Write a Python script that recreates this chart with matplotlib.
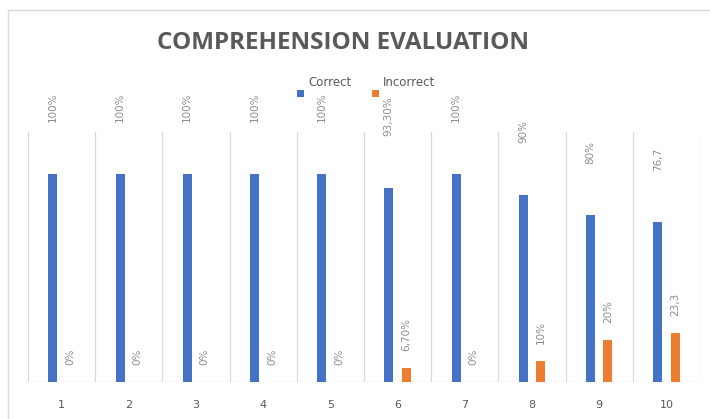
import matplotlib.pyplot as plt
from matplotlib.patches import Rectangle

# comprehension results per question
questions = ['1', '2', '3', '4', '5', '6', '7', '8', '9', '10']
correct = [100, 100, 100, 100, 100, 93.3, 100, 90, 80, 76.7]
incorrect = [0, 0, 0, 0, 0, 6.7, 0, 10, 20, 23.3]
correct_labels = ['100%', '100%', '100%', '100%', '100%', '93,30%', '100%', '90%', '80%', '76,7']
incorrect_labels = ['0%', '0%', '0%', '0%', '0%', '6,70%', '0%', '10%', '20%', '23,3']

blue = '#4472c4'
orange = '#ed7d31'
grid_color = '#d9d9d9'
text_color = '#595959'
label_color = '#8c8c8c'


def main():
    W, H = 710, 419
    fig = plt.figure(figsize=(W / 100, H / 100), dpi=100)
    fig.patch.set_facecolor('white')

    # outer chart frame
    fig.patches.append(Rectangle((8 / W, -0.1), 1.2, 1.1 - 10 / H, transform=fig.transFigure,
                                 fill=False, edgecolor=grid_color, linewidth=1.0))

    left, right, bottom, top = 28, 700, 382, 132
    ax = fig.add_axes([left / W, 1 - bottom / H, (right - left) / W, (bottom - top) / H])

    x = list(range(len(questions)))
    width = 0.135
    off = 0.13
    xb = [i - off for i in x]
    xo = [i + off for i in x]
    ax.bar(xb, correct, width=width, color=blue, zorder=3)
    ax.bar(xo, incorrect, width=width, color=orange, zorder=3)

    for xi, v, s in zip(xb, correct, correct_labels):
        ax.annotate(s, (xi, v), xytext=(0, 37), textcoords='offset points',
                    rotation=90, ha='center', va='bottom', fontsize=7.5, color=label_color)
    for xi, v, s in zip(xo, incorrect, incorrect_labels):
        ax.annotate(s, (xi, v), xytext=(0, 12.5), textcoords='offset points',
                    rotation=90, ha='center', va='bottom', fontsize=7.5, color=label_color)

    ax.set_xlim(-0.5, len(questions) - 0.5)
    ax.set_ylim(0, 120)
    # vertical separators between categories
    for b in range(len(questions) + 1):
        ax.axvline(b - 0.5, color=grid_color, linewidth=0.9, zorder=1)
    ax.axhline(0, color=grid_color, linewidth=1.0, zorder=2)

    ax.set_xticks(x)
    ax.set_xticklabels(questions, fontsize=8, color=text_color)
    ax.tick_params(axis='x', length=0, pad=13)
    ax.set_yticks([])
    for sp in ax.spines.values():
        sp.set_visible(False)

    fig.text(343 / W, 1 - 43 / H, 'COMPREHENSION EVALUATION', ha='center', va='center',
             fontsize=17.5, fontweight='bold', color=text_color, family='Open Sans')

    # legend
    for (sx, tx, name, c) in [(297, 308, 'Correct', blue), (372, 383, 'Incorrect', orange)]:
        fig.patches.append(Rectangle((sx / W, 1 - 97 / H), 7 / W, 7 / H, transform=fig.transFigure,
                                     facecolor=c, edgecolor='none'))
        fig.text(tx / W, 1 - 83 / H, name, ha='left', va='center', fontsize=8.5, color=text_color)

    fig.savefig('out.png', dpi=100, facecolor='w')
    plt.close('all')


if __name__ == '__main__':
    main()
